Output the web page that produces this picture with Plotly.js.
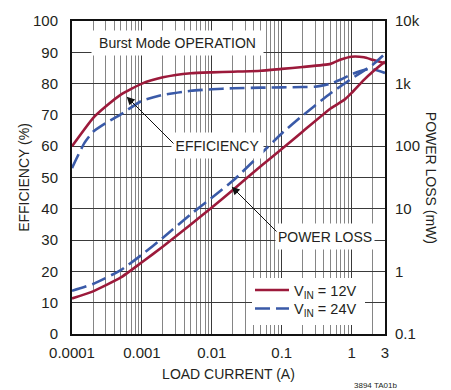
<!DOCTYPE html>
<html>
<head>
<meta charset="utf-8">
<script src="https://cdn.plot.ly/plotly-3.0.1.min.js"></script>
<style>html,body{margin:0;padding:0;background:#fff;}#chart{width:451px;height:390px;}</style>
</head>
<body>
<div id="chart"></div>
<script>
// ---- data ----
const effCurrent12 = [0.0001, 0.0002, 0.0003, 0.0005, 0.001, 0.002, 0.005, 0.01, 0.02, 0.05, 0.1, 0.2, 0.5, 0.7, 1, 1.5, 2, 3];
const eff12 = [60, 69, 72.6, 76.5, 80, 82, 83.3, 83.6, 83.8, 84.1, 84.7, 85.3, 86.3, 87.7, 88.6, 88.4, 87.6, 86.5];

const effCurrent24 = [0.0001, 0.00015, 0.0002, 0.0003, 0.0005, 0.001, 0.002, 0.005, 0.01, 0.02, 0.05, 0.1, 0.2, 0.3, 0.5, 0.7, 1, 1.5, 2, 3];
const eff24 = [53, 61, 64.6, 67.3, 70.2, 74.5, 76.4, 77.7, 78.2, 78.5, 78.7, 78.8, 78.9, 79.0, 80.0, 81.3, 83, 84.3, 84.6, 83.4];

const lossCurrent12 = [0.0001, 0.0002, 0.0005, 0.001, 0.002, 0.005, 0.01, 0.02, 0.05, 0.1, 0.2, 0.5, 0.8, 1, 1.5, 2, 3];
const loss12 = [0.37, 0.48, 0.8, 1.4, 2.5, 5.6, 10.5, 20, 48, 90, 172, 400, 560, 710, 1150, 1550, 2250];

const lossCurrent24 = [0.0001, 0.0002, 0.0005, 0.001, 0.002, 0.005, 0.01, 0.02, 0.05, 0.1, 0.2, 0.5, 1, 2, 3];
const loss24 = [0.49, 0.63, 1.05, 1.85, 3.45, 8.2, 15, 28, 75, 160, 310, 700, 1200, 2000, 3000];

const xTickVals = [0.0001, 0.001, 0.01, 0.1, 1, 3];
const xTickText = ['0.0001', '0.001', '0.01', '0.1', '1', '3'];
const xMinorVals = [];
[0.0001, 0.001, 0.01, 0.1, 1].forEach(d => { for (let m = 2; m <= 9; m++) { if (d * m < 3) xMinorVals.push(d * m); } });
const effTickVals = [0, 10, 20, 30, 40, 50, 60, 70, 80, 90, 100];
const lossTickVals = [0.1, 1, 10, 100, 1000, 10000];
const lossTickText = ['0.1', '1', '10', '100', '1k', '10k'];

const seriesNames = ['V<sub>IN</sub> = 12V', 'V<sub>IN</sub> = 24V'];

// ---- styling ----
const RED = '#9c1a3b';
const BLUE = '#3a5aa8';
const TXT = '#231f20';
const FONT = '"Liberation Sans", Arial, sans-serif';
const DASH = '15px,6px';

const traces = [
  {x: effCurrent12, y: eff12, yaxis: 'y', mode: 'lines', name: seriesNames[0], legend: 'legend',
   line: {color: RED, width: 2.6, shape: 'spline', smoothing: 0.5}},
  {x: effCurrent24, y: eff24, yaxis: 'y', mode: 'lines', name: seriesNames[1], legend: 'legend2',
   line: {color: BLUE, width: 2.6, dash: DASH, shape: 'spline', smoothing: 0.5}},
  {x: lossCurrent12, y: loss12, yaxis: 'y2', mode: 'lines', name: seriesNames[0], showlegend: false,
   line: {color: RED, width: 2.6, shape: 'spline', smoothing: 0.5}},
  {x: lossCurrent24, y: loss24, yaxis: 'y2', mode: 'lines', name: seriesNames[1], showlegend: false,
   line: {color: BLUE, width: 2.6, dash: DASH, shape: 'spline', smoothing: 0.5}}
];

const L = 72, R = 385, T = 21, B = 334, W = 451, H = 390;
const px = v => (v - L) / (R - L);
const py = v => (B - v) / (B - T);

const boxFont = {family: FONT, size: 14, color: TXT};
const legFont = {family: FONT, size: 14.5, color: TXT};

const layout = {
  width: W, height: H,
  margin: {l: L, r: W - R, t: T, b: H - B, pad: 0},
  paper_bgcolor: '#ffffff', plot_bgcolor: '#ffffff',
  font: {family: FONT, color: TXT, size: 14},
  showlegend: true,
  legend: {x: px(250), y: py(290), xanchor: 'left', yanchor: 'middle', bgcolor: 'rgba(0,0,0,0)',
           borderwidth: 0, font: legFont, itemwidth: 34},
  legend2: {x: px(250), y: py(308.5), xanchor: 'left', yanchor: 'middle', bgcolor: 'rgba(0,0,0,0)',
           borderwidth: 0, font: legFont, itemwidth: 34},
  shapes: [
    {type: 'rect', xref: 'paper', yref: 'paper', x0: px(252), x1: px(365), y0: py(325), y1: py(278),
     fillcolor: '#ffffff', line: {width: 0}, layer: 'above'}
  ],
  xaxis: {
    type: 'log', range: [Math.log10(0.0001), Math.log10(3)],
    tickmode: 'array', tickvals: xTickVals, ticktext: xTickText,
    showgrid: true, gridcolor: '#3a3a3a', gridwidth: 1,
    minor: {tickmode: 'array', tickvals: xMinorVals, showgrid: true, gridcolor: '#858585', gridwidth: 1, ticks: ''},
    showline: true, linecolor: '#111', linewidth: 2, mirror: true,
    ticks: '', ticklabelstandoff: 4, zeroline: false,
    tickfont: {family: FONT, size: 15, color: TXT},
    title: {text: 'LOAD CURRENT (A)', font: {family: FONT, size: 14, color: TXT}, standoff: 9}
  },
  yaxis: {
    range: [0, 100], tickmode: 'array', tickvals: effTickVals,
    showgrid: true, gridcolor: '#3a3a3a', gridwidth: 1,
    showline: true, linecolor: '#111', linewidth: 2, mirror: true,
    ticks: '', ticklabelstandoff: 9, zeroline: false,
    tickfont: {family: FONT, size: 15, color: TXT},
    title: {text: 'EFFICIENCY (%)', font: {family: FONT, size: 14, color: TXT}, standoff: 0}
  },
  yaxis2: {
    type: 'log', range: [-1, 4], overlaying: 'y', side: 'right',
    tickmode: 'array', tickvals: lossTickVals, ticktext: lossTickText,
    showgrid: false, showline: false, zeroline: false,
    ticks: '', ticklabelstandoff: 9,
    tickfont: {family: FONT, size: 15, color: TXT}
  },
  annotations: [
    {xref: 'paper', yref: 'paper', x: px(177.5), y: py(43), text: 'Burst Mode OPERATION', showarrow: false,
     bgcolor: '#ffffff', width: 169, height: 22, font: boxFont, xanchor: 'center', yanchor: 'middle'},
    {xref: 'paper', yref: 'paper', x: px(217.5), y: py(145.5), text: 'EFFICIENCY', showarrow: false,
     bgcolor: '#ffffff', width: 89, height: 23, font: boxFont, xanchor: 'center', yanchor: 'middle'},
    {xref: 'paper', yref: 'paper', x: px(325), y: py(236.5), text: 'POWER LOSS', showarrow: false,
     bgcolor: '#ffffff', width: 96, height: 23, font: boxFont, xanchor: 'center', yanchor: 'middle'},
    {xref: 'paper', yref: 'paper', x: px(126.7), y: py(96.7), text: '', showarrow: true,
     ax: 48.3, ay: 48.3, arrowhead: 2, arrowsize: 1.6, arrowwidth: 1, arrowcolor: '#111', standoff: 0},
    {xref: 'paper', yref: 'paper', x: px(231.7), y: py(186.7), text: '', showarrow: true,
     ax: 46.3, ay: 46.3, arrowhead: 2, arrowsize: 1.6, arrowwidth: 1, arrowcolor: '#111', standoff: 0},
    {xref: 'paper', yref: 'paper', x: px(431.7), y: 0.5, text: 'POWER LOSS (mW)', showarrow: false,
     textangle: 90, font: {family: FONT, size: 14, color: TXT}, xanchor: 'center', yanchor: 'middle'},
    {xref: 'paper', yref: 'paper', x: px(375), y: py(379), text: '3894 TA01b', showarrow: false,
     font: {family: FONT, size: 8, color: TXT}, xanchor: 'center', yanchor: 'top'}
  ]
};

Plotly.newPlot('chart', traces, layout, {displayModeBar: false, staticPlot: true});
</script>
</body>
</html>
